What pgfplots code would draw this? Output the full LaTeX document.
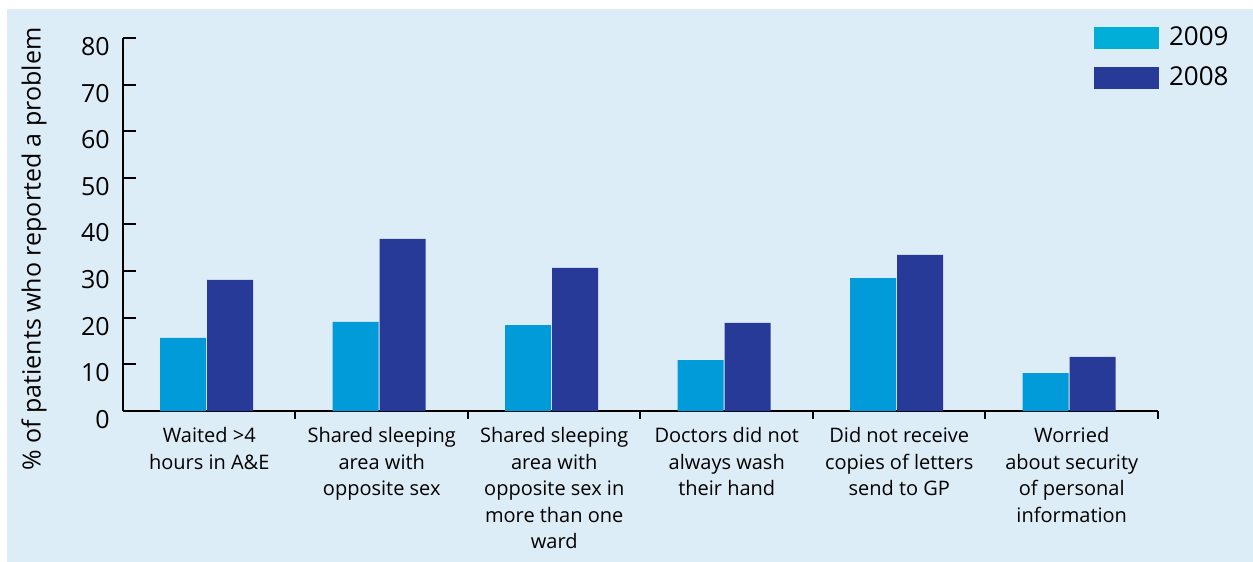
\documentclass[border=0pt]{standalone}
\usepackage{fontspec}
\setmainfont{Open Sans}
\usepackage{pgfplots}
\pgfplotsset{compat=1.18}
\definecolor{bg}{HTML}{DDEDF7}
\definecolor{c09}{HTML}{009BD8}
\definecolor{c08}{HTML}{283A97}
\definecolor{c09leg}{HTML}{00AED8}
\begin{document}
\begin{tikzpicture}
\useasboundingbox (-61.5pt,-75.5pt) rectangle (565pt,205.5pt);
\fill[bg] (-58pt,-75.5pt) rectangle (565pt,201pt);
\begin{axis}[
  scale only axis, width=517.5pt, height=186.5pt,
  at={(0pt,0pt)}, anchor=south west,
  xmin=-0.5, xmax=5.5, ymin=0, ymax=80,
  ytick={0,10,...,80},
  xtick={0,...,5},
  xticklabels={{Waited >4\\hours in A\&E},
    {Shared sleeping\\area with\\opposite sex},
    {Shared sleeping\\area with\\opposite sex in\\more than one\\ward},
    {Doctors did not\\always wash\\their hand},
    {Did not receive\\copies of letters\\send to GP},
    {Worried\\about security\\of personal\\information}},
  minor xtick={0.5,1.5,...,5.5},
  major x tick style={draw=none},
  tick align=inside,
  major tick length=6.5pt, minor tick length=4pt,
  axis lines*=left,
  axis line style={-, line width=1pt, black},
  tick style={line width=1pt, black},
  /pgf/number format/assume math mode=true,
  yticklabel style={font=\fontsize{12.5}{14}\selectfont, inner sep=0pt, xshift=-6.5pt, yshift=-4.25pt},
  xticklabel style={font=\fontsize{10}{13.3}\selectfont, align=center, anchor=north, inner sep=0pt, yshift=-1.5pt},
  ylabel={\% of patients who reported a problem},
  ylabel style={at={(axis description cs:-0.086,0.434)}, anchor=center, font=\fontsize{12.5}{14}\selectfont},
  ybar, bar width=23pt,
  legend image code/.code={\fill (0pt,-5.5pt) rectangle (32.5pt,5.5pt);},
  legend style={at={(0.9382,1.0295)}, anchor=north west, draw=none, fill=none,
    inner sep=0pt, outer sep=0pt, row sep=9pt,
    font=\fontsize{13}{15}\selectfont,
    nodes={inner sep=0pt},
    /tikz/every odd column/.append style={column sep=5pt}},
  legend cell align=left,
]
\addplot[forget plot, fill=c09, draw=none, bar shift=-13pt] coordinates {
  (0,15.7) (1,19.1) (2,18.4) (3,10.9) (4,28.5) (5,8.15)};
\addplot[forget plot, fill=c08, draw=none, bar shift=10.5pt] coordinates {
  (0,28.1) (1,36.9) (2,30.7) (3,18.9) (4,33.5) (5,11.6)};
\addlegendimage{fill=c09leg, draw=none}
\addlegendentry{2009}
\addlegendimage{fill=c08, draw=none}
\addlegendentry{2008}
\end{axis}
\end{tikzpicture}
\end{document}
